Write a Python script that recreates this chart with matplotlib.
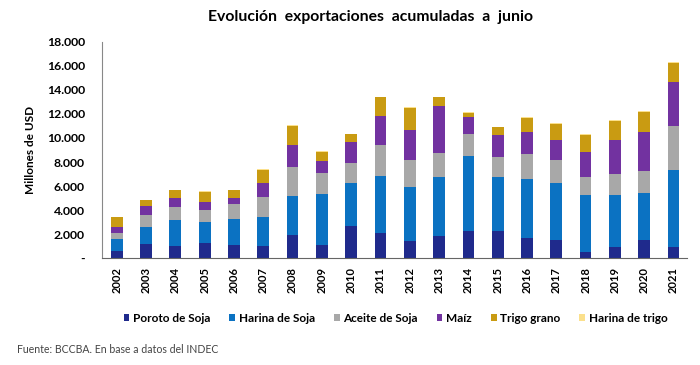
import matplotlib.pyplot as plt
import numpy as np
from matplotlib.ticker import FuncFormatter

plt.rcParams['font.family'] = ['Lato', 'DejaVu Sans']

years = [str(y) for y in range(2002, 2022)]

# stacked values (millones de USD)
poroto = [580, 1220, 1050, 1300, 1130, 1050, 1940, 1130, 2710, 2130,
          1470, 1880, 2300, 2300, 1710, 1490, 530, 940, 1490, 940]
harina_soja = [1050, 1380, 2100, 1710, 2110, 2380, 3230, 4180, 3540, 4750,
               4470, 4840, 6220, 4420, 4870, 4790, 4750, 4340, 3930, 6440]
aceite = [500, 970, 1140, 1050, 1270, 1660, 2410, 1770, 1690, 2550,
          2220, 2070, 1850, 1710, 2070, 1930, 1440, 1740, 1800, 3600]
maiz = [520, 800, 710, 640, 490, 1160, 1820, 1020, 1740, 2400,
        2490, 3870, 1350, 1800, 1880, 1610, 2130, 2820, 3260, 3670]
trigo = [760, 470, 650, 840, 650, 1110, 1580, 730, 610, 1560,
         1850, 730, 370, 670, 1140, 1360, 1390, 1610, 1690, 1590]
harina_trigo = [60, 50, 50, 50, 50, 50, 60, 50, 50, 50,
                50, 50, 50, 50, 50, 50, 50, 50, 50, 50]

series = [
    ('Poroto de Soja', poroto, '#1f2a8c'),
    ('Harina de Soja', harina_soja, '#0b72c2'),
    ('Aceite de Soja', aceite, '#a8a8a8'),
    ('Maíz', maiz, '#7232a0'),
    ('Trigo grano', trigo, '#c99b12'),
    ('Harina de trigo', harina_trigo, '#fbe08c'),
]

fig = plt.figure(figsize=(7, 3.65), dpi=100)
ax = fig.add_axes([0.145, 0.292, 0.836, 0.594])

x = np.arange(len(years))
bottom = np.zeros(len(years))
for name, vals, col in series:
    ax.bar(x, vals, 0.4, bottom=bottom, color=col, label=name)
    bottom += np.array(vals)

ax.set_xlim(-0.52, 19.45)
ax.set_ylim(0, 18000)
ax.set_yticks(range(0, 18001, 2000))
ax.yaxis.set_major_formatter(FuncFormatter(
    lambda v, p: '-' if v == 0 else f'{int(v):,}'.replace(',', '.')))
ax.set_xticks(x)
ax.set_xticklabels(years, rotation=90, fontsize=8, fontweight='bold')
for lab in ax.get_yticklabels():
    lab.set_fontweight('bold')
    lab.set_fontsize(8.8)
ax.tick_params(axis='y', length=0, pad=12)
ax.tick_params(axis='x', length=0, pad=6)

for s in ['top', 'right']:
    ax.spines[s].set_visible(False)
ax.spines['left'].set_color('#888888')
ax.spines['bottom'].set_color('#666666')

ax.set_ylabel('Millones de USD', fontsize=8.5, fontweight='bold', labelpad=8)

fig.text(0.53, 0.953, 'Evolución  exportaciones  acumuladas  a  junio',
         ha='center', va='center', fontsize=11.3, fontweight='bold')

leg = fig.legend(loc='center', bbox_to_anchor=(0.565, 0.128), ncol=6,
                 frameon=False, fontsize=8.5, handlelength=0.5, handleheight=0.6,
                 handletextpad=0.3, columnspacing=1.6)
for t in leg.get_texts():
    t.set_fontweight('bold')

fig.text(0.024, 0.043, 'Fuente: BCCBA. En base a datos del INDEC',
         fontsize=7.6, color='#444444', va='center')

fig.savefig('out.png', dpi=100)
